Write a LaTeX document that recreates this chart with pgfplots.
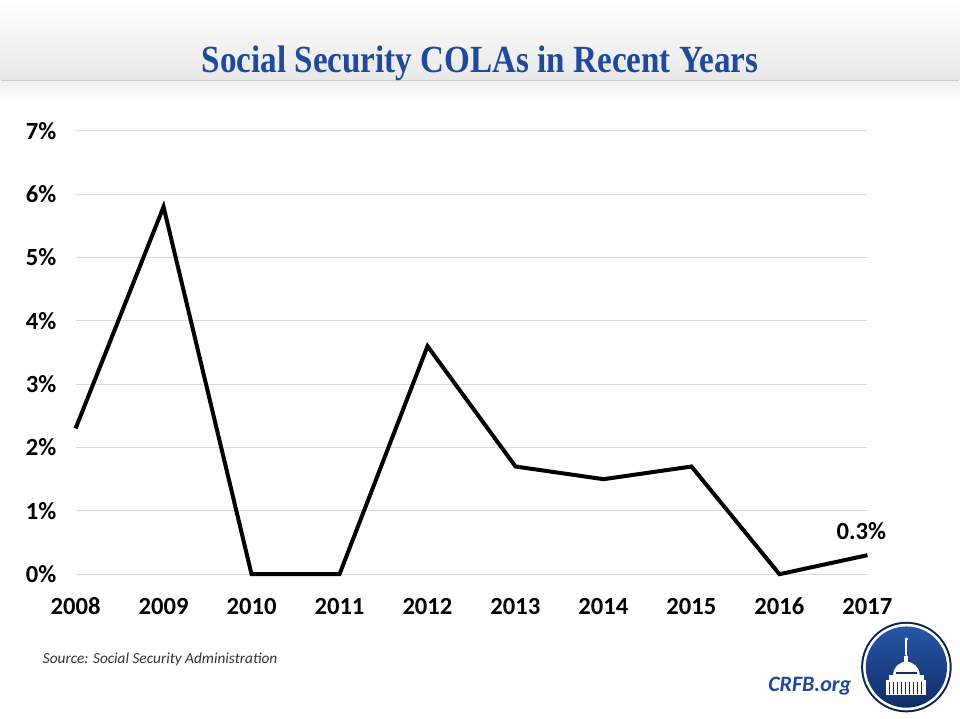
\documentclass[border=0pt]{standalone}
\usepackage{pgfplots}
\pgfplotsset{compat=1.18}
\usepackage{fontspec}
\setmainfont{Carlito}
\newfontfamily\titlefont{Liberation Serif}
\usetikzlibrary{shadings}
\definecolor{crfbblue}{RGB}{31,73,155}
\definecolor{logotop}{RGB}{40,86,166}
\definecolor{logobot}{RGB}{16,44,104}
\begin{document}
\begin{tikzpicture}
% canvas 960x720 px -> 720x540 pt
\fill[white] (0,0) rectangle (720pt,540pt);
\shade[top color=white, bottom color=black!9] (0,479.5pt) rectangle (720pt,540pt);
\draw[black!20, line width=1pt] (0,479.5pt) -- (720pt,479.5pt);
\shade[top color=black!6, bottom color=white] (0,462pt) rectangle (720pt,479pt);
\node[anchor=base, text=crfbblue, inner sep=0pt] at (360pt,485.5pt)
  {\resizebox{418pt}{20pt}{\titlefont\bfseries Social Security COLAs in Recent Years}};

\begin{axis}[
  at={(56.25pt,108.75pt)}, anchor=south west,
  scale only axis, width=594.75pt, height=333pt,
  xmin=2008, xmax=2017, ymin=0, ymax=7,
  clip=false,
  axis line style={draw=none},
  tick style={draw=none},
  ymajorgrids, grid style={black!15, line width=0.8pt},
  xtick={2008,...,2017},
  xticklabels={2008,2009,2010,2011,2012,2013,2014,2015,2016,2017},
  ytick={0,1,2,3,4,5,6,7},
  yticklabels={0\%,1\%,2\%,3\%,4\%,5\%,6\%,7\%},
  ticklabel style={font=\fontsize{18.5}{20}\selectfont\bfseries, text=black},
  yticklabel style={xshift=-11pt},
  xticklabel style={anchor=base, yshift=-30pt},
]
\addplot[black, line width=3pt, line join=miter, mark=none] coordinates {
  (2008,2.3) (2009,5.8) (2010,0) (2011,0) (2012,3.6)
  (2013,1.7) (2014,1.5) (2015,1.7) (2016,0) (2017,0.3)
};
\node[anchor=base, font=\fontsize{18.5}{20}\selectfont\bfseries, inner sep=0pt]
  at (axis cs:2016.93,0.54) {0.3\%};
\end{axis}

\node[anchor=base west, inner sep=0pt, text=black!80,
  font=\fontsize{11.5}{13}\selectfont\itshape] at (31.5pt,42pt)
  {Source: Social Security Administration};
\node[anchor=base east, inner sep=0pt, text=crfbblue,
  font=\fontsize{16.5}{18}\selectfont\bfseries\itshape] at (639pt,21pt) {CRFB.org};

% logo
\begin{scope}[shift={(680.25pt,39pt)}]
  \fill[logobot!80!black] (0,0) circle (34pt);
  \fill[white] (0,0) circle (32.5pt);
  \shade[top color=logotop, bottom color=logobot] (0,0) circle (30.5pt);
  % capitol
  \fill[white] (-15pt,-21pt) rectangle (15pt,-10pt);
  \foreach \i in {-13,-10,...,13} \fill[logobot] (\i pt,-20pt) rectangle (\i pt+1pt,-11.5pt);
  \fill[white] (-13pt,-10pt) rectangle (13pt,-6pt);
  \fill[white] (-10pt,-6pt) arc (180:0:10pt and 10pt) -- cycle;
  \fill[logobot] (-8pt,-5pt) rectangle (8pt,-3.5pt);
  \fill[white] (-1.5pt,3.5pt) rectangle (1.5pt,8pt);
  \fill[white] (0,8pt) ellipse (1.2pt and 1pt);
  \fill[white] (-0.8pt,9pt) rectangle (0.8pt,20pt);
  \fill[white] (0,21pt) circle (1.3pt);
\end{scope}
\end{tikzpicture}
\end{document}
